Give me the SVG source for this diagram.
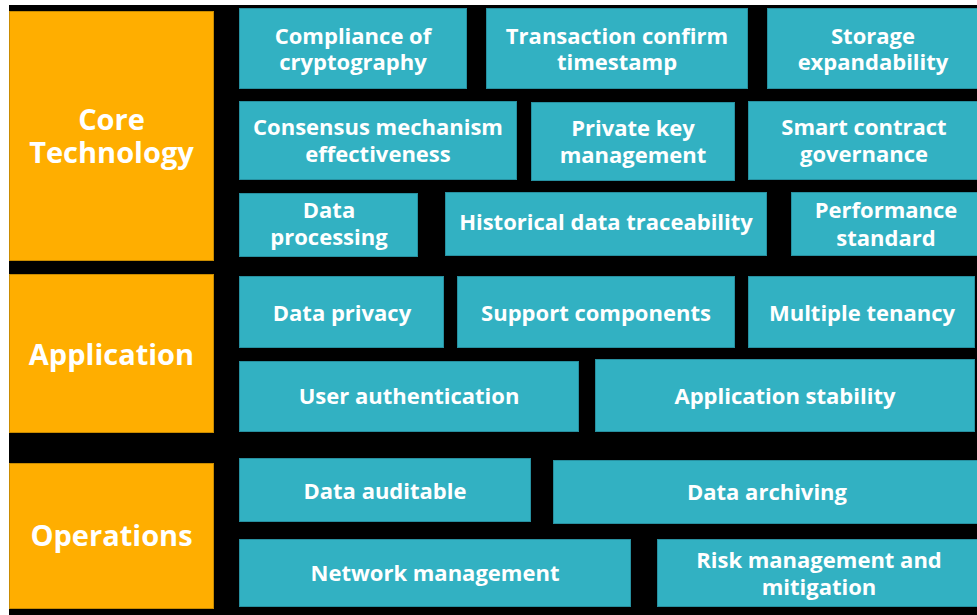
<svg xmlns="http://www.w3.org/2000/svg" width="977" height="615" viewBox="0 0 977 615">
<style>
.cat{fill:#FFAE00;stroke:#C98B00;stroke-width:1}
.box{fill:#32B1C2;stroke:#2790A0;stroke-width:1}
.t{font-family:"Open Sans","Noto Sans","Liberation Sans",sans-serif;font-weight:700;fill:#FFFFFF;text-anchor:middle;font-size:22px}
.ct{font-family:"Open Sans","Noto Sans","Liberation Sans",sans-serif;font-weight:700;fill:#FFFFFF;text-anchor:middle;font-size:29px}
</style>
<rect x="0" y="0" width="977" height="615" fill="#FFFFFF"/>
<rect x="9" y="5" width="968" height="610" fill="#000000"/>
<g id="core-technology"><rect class="cat" x="9.5" y="11.5" width="204" height="249"/><text class="ct" x="111.5" y="130">Core</text><text class="ct" x="111.5" y="163">Technology</text></g>
<g id="application"><rect class="cat" x="9.5" y="274.5" width="204" height="158"/><text class="ct" x="111.5" y="365">Application</text></g>
<g id="operations"><rect class="cat" x="9.5" y="463.5" width="204" height="145"/><text class="ct" x="111.5" y="546">Operations</text></g>
<g id="compliance"><rect class="box" x="239.5" y="8.5" width="227" height="80"/><text class="t" x="353" y="44">Compliance of</text><text class="t" x="353" y="70">cryptography</text></g>
<g id="transaction"><rect class="box" x="486.5" y="8.5" width="261" height="80"/><text class="t" x="617" y="44">Transaction confirm</text><text class="t" x="617" y="70">timestamp</text></g>
<g id="storage"><rect class="box" x="767.5" y="8.5" width="212" height="80"/><text class="t" x="873" y="44">Storage</text><text class="t" x="873" y="70">expandability</text></g>
<g id="consensus"><rect class="box" x="239.5" y="101.5" width="277" height="78"/><text class="t" x="378" y="135">Consensus mechanism</text><text class="t" x="378" y="162">effectiveness</text></g>
<g id="private-key"><rect class="box" x="531.5" y="102.5" width="203" height="78"/><text class="t" x="633" y="136">Private key</text><text class="t" x="633" y="163">management</text></g>
<g id="smart-contract"><rect class="box" x="748.5" y="101.5" width="231" height="78"/><text class="t" x="864" y="135">Smart contract</text><text class="t" x="864" y="162">governance</text></g>
<g id="data-processing"><rect class="box" x="239.5" y="193.5" width="178" height="63"/><text class="t" x="329" y="218">Data</text><text class="t" x="329" y="245">processing</text></g>
<g id="historical"><rect class="box" x="445.5" y="192.5" width="321" height="63"/><text class="t" x="606" y="230">Historical data traceability</text></g>
<g id="performance"><rect class="box" x="791.5" y="192.5" width="188" height="63"/><text class="t" x="886" y="218">Performance</text><text class="t" x="886" y="246">standard</text></g>
<g id="data-privacy"><rect class="box" x="239.5" y="276.5" width="204" height="71"/><text class="t" x="342" y="321">Data privacy</text></g>
<g id="support-components"><rect class="box" x="457.5" y="276.5" width="277" height="71"/><text class="t" x="596" y="321">Support components</text></g>
<g id="multiple-tenancy"><rect class="box" x="748.5" y="276.5" width="226" height="71"/><text class="t" x="862" y="321">Multiple tenancy</text></g>
<g id="user-authentication"><rect class="box" x="239.5" y="361.5" width="339" height="70"/><text class="t" x="409" y="404">User authentication</text></g>
<g id="application-stability"><rect class="box" x="595.5" y="359.5" width="379" height="72"/><text class="t" x="785" y="404">Application stability</text></g>
<g id="data-auditable"><rect class="box" x="239.5" y="458.5" width="291" height="63"/><text class="t" x="385" y="499">Data auditable</text></g>
<g id="data-archiving"><rect class="box" x="553.5" y="460.5" width="426" height="63"/><text class="t" x="767" y="500">Data archiving</text></g>
<g id="network-management"><rect class="box" x="239.5" y="539.5" width="391" height="67"/><text class="t" x="435" y="581">Network management</text></g>
<g id="risk-management"><rect class="box" x="657.5" y="539.5" width="322" height="67"/><text class="t" x="819" y="568">Risk management and</text><text class="t" x="819" y="595">mitigation</text></g>
<g id="connectors"></g>
</svg>
